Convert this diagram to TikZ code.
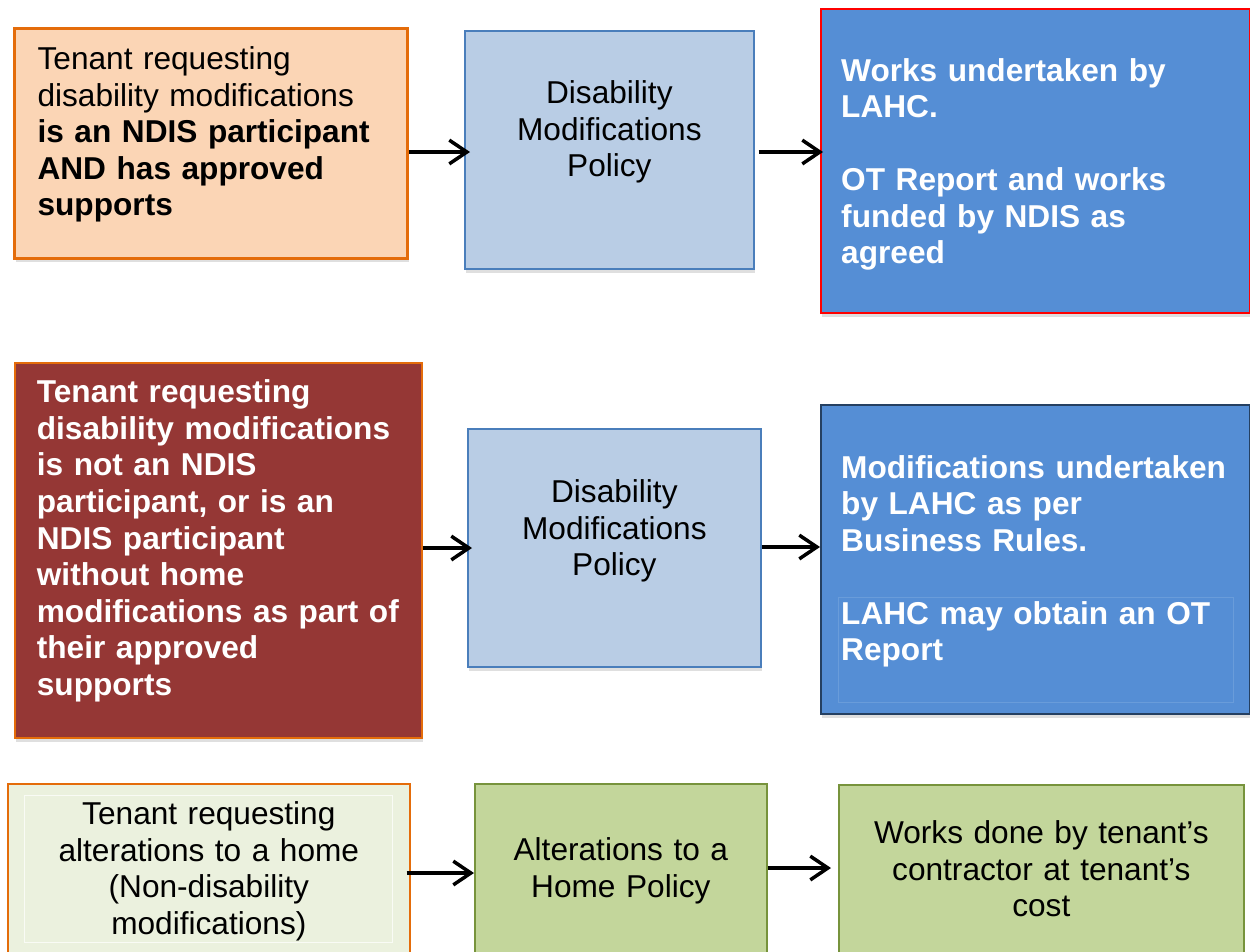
\documentclass[tikz,border=0pt]{standalone}
\usepackage{fontspec}
\setmainfont{Liberation Sans}
\usepackage{tikz}
\usetikzlibrary{arrows.meta}
\usetikzlibrary{shadows}
\definecolor{peach}{HTML}{FBD5B5}
\definecolor{orangeline}{HTML}{E46C0A}
\definecolor{paleblue}{HTML}{B9CDE5}
\definecolor{blueline}{HTML}{4A7EBB}
\definecolor{midblue}{HTML}{558ED5}
\definecolor{navyline}{HTML}{254061}
\definecolor{brick}{HTML}{953735}
\definecolor{palegreen}{HTML}{EBF1DE}
\definecolor{sage}{HTML}{C3D69B}
\definecolor{greenline}{HTML}{77933C}
\tikzstyle{card}=[rectangle,anchor=north west,inner ysep=0pt,inner xsep=0.44cm,font=\fontsize{18}{20.8}\selectfont,drop shadow={shadow xshift=0.6pt,shadow yshift=-2.2pt,opacity=0.25}]
\tikzstyle{policy}=[card,draw=blueline,fill=paleblue,line width=1pt,align=center,inner xsep=0.2cm]
\tikzstyle{outcome}=[card,fill=midblue,line width=1.4pt,align=left,text=white,font=\fontsize{18}{20.8}\selectfont\bfseries]
\tikzstyle{leaf}=[card,draw=greenline,fill=sage,line width=1pt,align=center,inner xsep=0.2cm]
\tikzstyle{faint}=[line width=0.4pt]
\tikzstyle{arrow}=[-{Straight Barb[length=10pt,width=13.5pt]},line width=2pt]

\begin{document}
\begin{tikzpicture}[x=0.02cm,y=-0.02cm]
  \useasboundingbox (0,0) rectangle (1250,951);
  % row 1
  \node[card,draw=orangeline,fill=peach,line width=1.8pt,align=left,inner xsep=0.46cm,
        text width=6.94cm,text height=0.82cm,text depth=3.78cm] at (13,27) (t1)
       {Tenant requesting\\disability modifications\\\textbf{is an NDIS participant}\\\textbf{AND has approved}\\\textbf{supports}};
  \node[policy,text width=5.38cm,text height=1.46cm,text depth=3.3cm] at (464,30) (p1)
       {Disability\\Modifications\\Policy};
  \node[outcome,draw=red,inner xsep=0.4cm,text width=7.78cm,text height=1.44cm,text depth=4.64cm] at (820,8) (w1)
       {Works undertaken by\\LAHC.\\[20.8pt]OT Report and works\\funded by NDIS as\\agreed};
  % row 2
  \node[card,draw=orangeline,fill=brick,line width=1pt,align=left,text=white,
        font=\fontsize{18}{20.8}\selectfont\bfseries,
        text width=7.26cm,text height=0.8cm,text depth=6.7cm] at (14,362) (t2)
       {Tenant requesting\\disability modifications\\is not an NDIS\\participant, or is an\\NDIS participant\\without home\\modifications as part of\\their approved\\supports};
  \node[policy,text width=5.46cm,text height=1.48cm,text depth=3.28cm] at (467,428) (p2)
       {Disability\\Modifications\\Policy};
  \node[outcome,draw=navyline,inner xsep=0.4cm,text width=7.78cm,text height=1.46cm,text depth=4.72cm] at (820,404) (w2)
       {Modifications undertaken\\by LAHC as per\\Business Rules.\\[20.8pt]LAHC may obtain an OT\\Report};
  \draw[faint,draw=midblue!88!white] (838,597) rectangle (1233,702);
  % row 3
  \node[card,draw=orangeline,fill=palegreen,line width=1pt,align=center,inner xsep=0.2cm,
        text width=7.64cm,text height=0.82cm,text depth=2.9cm] at (7,783) (t3)
       {Tenant requesting\\alterations to a home\\(Non-disability\\modifications)};
  \draw[faint,draw=white!70!palegreen] (24,795) rectangle (392,942);
  \node[leaf,text width=5.44cm,text height=1.54cm,text depth=2.2cm] at (474,783) (p3)
       {Alterations to a\\Home Policy};
  \node[leaf,text width=7.7cm,text height=1.18cm,text depth=2.5cm] at (838,784) (w3)
       {Works done by tenant’s\\contractor at tenant’s\\cost};
  % arrows
  \draw[arrow] (t1.east |- 0,152) -- ([xshift=0.12cm]p1.west |- 0,152);
  \draw[arrow] ([xshift=0.08cm]p1.east |- 0,152) -- ([xshift=0.06cm]w1.west |- 0,152);
  \draw[arrow] (t2.east |- 0,548) -- ([xshift=0.1cm]p2.west |- 0,548);
  \draw[arrow] (p2.east |- 0,547) -- (w2.west |- 0,547);
  \draw[arrow] ([xshift=-0.08cm]t3.east |- 0,873) -- (p3.west |- 0,873);
  \draw[arrow] (p3.east |- 0,868) -- ([xshift=-0.14cm]w3.west |- 0,868);
\end{tikzpicture}
\end{document}
